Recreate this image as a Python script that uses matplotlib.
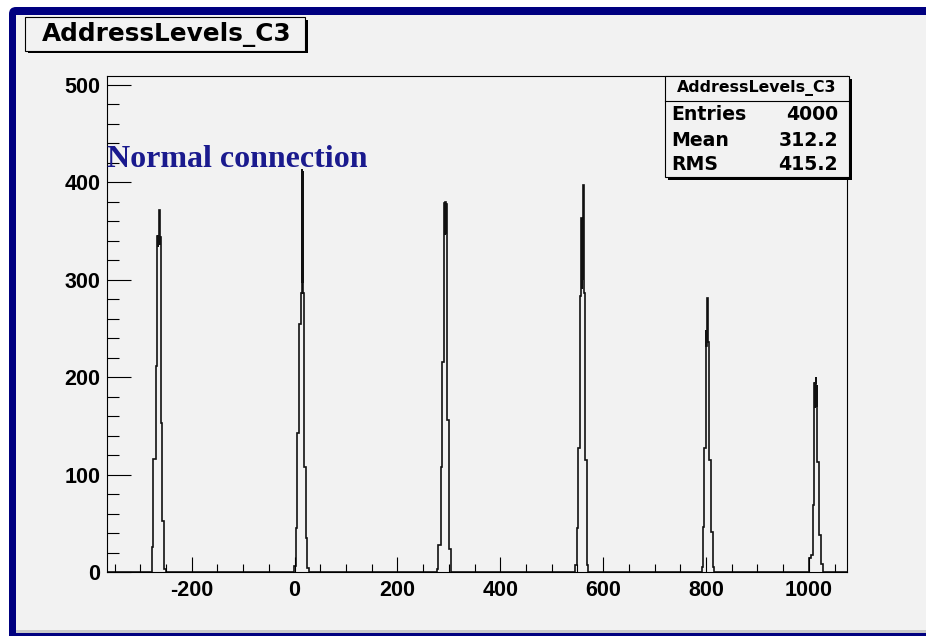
import matplotlib.pyplot as plt
from matplotlib.patches import Rectangle, FancyBboxPatch
from matplotlib.ticker import MultipleLocator

plt.rcParams['axes.unicode_minus'] = False

# Bin edges and contents of each address level peak
p1_edges = [-277.6, -274.4, -269.8, -266.8, -265.5, -264.5, -263.3, -262.3, -261.3, -260.1, -257.0, -253.0, -249.8]
p1_counts = [26, 116, 211, 345, 334, 345, 372, 336, 344, 153, 52, 3]

p2_edges = [-1.0, 2.5, 5.5, 9.5, 12.0, 14.0, 15.0, 16.0, 17.0, 18.5, 21.8, 25.0, 28.5]
p2_counts = [6, 45, 143, 255, 286, 414, 298, 411, 286, 108, 35, 4]

p3_edges = [276.4, 279.5, 284.2, 286.7, 290.6, 291.6, 292.6, 293.6, 294.6, 295.8, 299.7, 303.6]
p3_counts = [3, 28, 108, 216, 379, 346, 380, 347, 378, 156, 24]

p4_edges = [545.2, 548.5, 551.6, 554.9, 556.9, 557.9, 558.9, 559.9, 560.8, 561.8, 564.6, 567.9, 571.1]
p4_counts = [7, 45, 127, 283, 363, 290, 362, 300, 397, 286, 115, 7]

p5_edges = [791.4, 793.4, 796.5, 799.8, 800.8, 801.8, 802.8, 803.6, 805.6, 809.5, 812.8, 815.4]
p5_counts = [5, 46, 127, 248, 232, 247, 281, 236, 115, 41, 5]

p6_edges = [1000.6, 1003.9, 1007.2, 1009.7, 1010.7, 1011.7, 1012.7, 1013.3, 1014.1, 1015.1, 1016.1, 1020.0, 1023.3, 1026.6]
p6_counts = [14, 17, 69, 180, 194, 168, 194, 200, 170, 192, 113, 38, 8]

x_range = (-364, 1074)
y_max = 509

hist_name = 'AddressLevels_C3'
stat_names = ['Entries', 'Mean', 'RMS']
stat_values = ['4000', '312.2', '415.2']

# join the peaks into one histogram, empty bins in between
edges = [x_range[0]]
counts = []
for e, c in zip([p1_edges, p2_edges, p3_edges, p4_edges, p5_edges, p6_edges],
                [p1_counts, p2_counts, p3_counts, p4_counts, p5_counts, p6_counts]):
    counts.append(0)
    edges.extend(e)
    counts.extend(c)
counts.append(0)
edges.append(x_range[1])

W, H = 926, 636
bg_col = '#f2f2f2'
navy = '#000080'
fig = plt.figure(figsize=(W / 100, H / 100), dpi=100, facecolor='white')

# canvas frame (pixel coordinates)
bg = fig.add_axes([0, 0, 1, 1])
bg.set_xlim(0, W)
bg.set_ylim(H, 0)
bg.axis('off')
bg.add_patch(FancyBboxPatch((9, 7), W + 30, H + 30, boxstyle='round,pad=0,rounding_size=7',
                            fc=navy, ec='none'))
bg.add_patch(Rectangle((16, 15), W, 615, fc=bg_col, ec='none'))
bg.add_patch(Rectangle((16, 630), W, 3, fc='#c8c8c8', ec='none'))

# histogram pad
ax = fig.add_axes([107.3 / W, (H - 572) / H, (847 - 107.3) / W, (572 - 76) / H])
ax.set_facecolor(bg_col)
ax.stairs(counts, edges, baseline=None, color='#111111', linewidth=1.2)
ax.set_xlim(*x_range)
ax.set_ylim(0, y_max)
ax.xaxis.set_major_locator(MultipleLocator(200))
ax.xaxis.set_minor_locator(MultipleLocator(50))
ax.yaxis.set_major_locator(MultipleLocator(100))
ax.yaxis.set_minor_locator(MultipleLocator(20))
ax.tick_params(axis='y', which='major', direction='in', length=17, width=0.8, pad=5)
ax.tick_params(axis='y', which='minor', direction='in', length=8.6, width=0.8)
ax.tick_params(axis='x', which='major', direction='in', length=10.8, width=0.8, pad=6)
ax.tick_params(axis='x', which='minor', direction='in', length=5.8, width=0.8)
for lab in ax.get_xticklabels() + ax.get_yticklabels():
    lab.set_fontfamily('Liberation Sans')
    lab.set_fontweight('bold')
    lab.set_fontsize(15.5)
for sp in ax.spines.values():
    sp.set_linewidth(0.8)

# overlay for title box, stats box and note
ov = fig.add_axes([0, 0, 1, 1])
ov.set_xlim(0, W)
ov.set_ylim(H, 0)
ov.axis('off')

ov.add_patch(Rectangle((27.5, 19.5), 280, 33.5, fc='black', ec='none'))
ov.add_patch(Rectangle((25, 17.3), 280, 33.5, fc=bg_col, ec='black', lw=0.8))
ov.text(167, 34.5, hist_name, ha='center', va='center', fontsize=17.8,
        fontweight='bold', family='DejaVu Sans')

ov.add_patch(Rectangle((667.5, 78.5), 184, 101, fc='black', ec='none'))
ov.add_patch(Rectangle((665, 75.5), 184, 101, fc=bg_col, ec='black', lw=0.8))
ov.plot([665, 849], [100.7, 100.7], color='black', lw=0.8)
ov.text(757, 88.5, hist_name, ha='center', va='center', fontsize=11.3,
        fontweight='bold', family='DejaVu Sans')
for i, (name, val) in enumerate(zip(stat_names, stat_values)):
    yy = 115 + i * 25
    ov.text(671, yy, name, ha='left', va='center', fontsize=13.6,
            fontweight='bold', family='DejaVu Sans')
    ov.text(838, yy, val, ha='right', va='center', fontsize=13.6,
            fontweight='bold', family='DejaVu Sans')

ov.text(107, 167, 'Normal connection', ha='left', va='baseline', fontsize=23,
        fontweight='bold', family='Liberation Serif', color='#1a1a8e')

fig.savefig('out.png', dpi=100, facecolor='white')
